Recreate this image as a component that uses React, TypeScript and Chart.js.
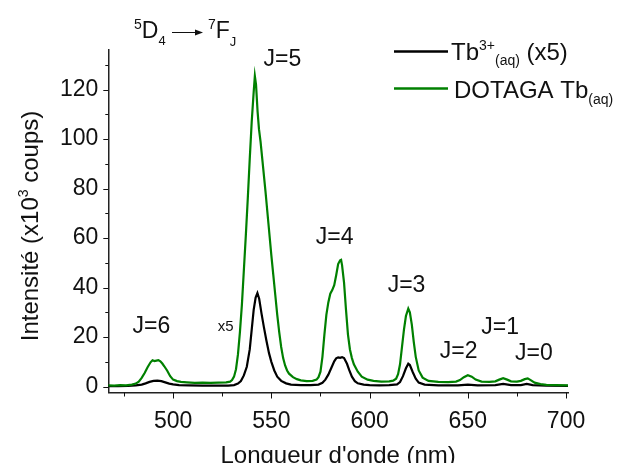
import { useEffect, useRef } from 'react';
import { Chart, registerables } from 'chart.js';

Chart.register(...registerables);

// ---- data ----
const wavelengthDotaga = [467,470,473,476,479,481,482.5,484,485.5,487,
  488.5,489.5,490.5,491.5,492.5,493.5,494.5,495.5,497,498.5,
  500,502,504,507,511,515,519,523,527,529,
  530,531,532,533,534,535,536,537,538,539,
  540,541,541.6,542.2,543,543.7,544.5,545.5,547,548.5,
  550,551,552,553,554,555,556,557,558,559,
  561,563,565,568,571,573,574,575,576,577,
  578,579,580,581,582,583,584,585,585.5,586,
  587,588,589,590,591,592,594,596,599,602,
  606,610,612,613.5,614.5,615.5,616.5,617.5,618.5,619.7,
  620.5,621.5,622.5,623.5,625,627,630,635,640,644,
  646,648,650,652,654,657,661,664,666,668,
  670,672,675,677,679,680.5,682,684,687,690,
  695,701];
const intensityDotaga = [0.5,0.4,0.6,0.5,0.8,1.2,2.0,3.5,5.5,7.8,
  9.8,10.6,10.3,10.5,10.7,10.2,9.3,8.2,6.4,4.2,
  2.8,2.2,1.9,1.7,1.5,1.6,1.5,1.6,1.7,2.0,
  2.6,4.0,7.0,13,22,33,47,61,76,92,
  107,119,125.5,122,111,104,99,91,79,66,
  53,45,37,29,22,16,11.5,8.5,6.5,5.2,
  3.8,3.0,2.5,2.2,2.3,2.8,3.8,6,12,21,
  29,34,37.5,39,41,45,49.5,51,51.2,49,
  42,31,21,15,11.5,9,6,4,2.8,2.3,
  2.0,2.1,2.4,3.2,5,9,16,23,28.5,31.5,
  30,25,18,12,6.5,3.6,2.3,1.9,1.8,2.0,
  2.6,3.8,4.6,4.0,2.8,2.0,1.9,2.1,2.8,3.4,
  2.8,2.1,2.0,2.3,3.0,3.3,2.6,1.6,1.0,0.7,
  0.6,0.5];

const wavelengthTb = [467,472,477,481,484,486,488,490,492,494,
  496,498,500,503,508,515,522,528,531,533,
  534.5,536,537.5,539,540,541,542,542.9,543.8,545,
  546.2,547.5,548.8,550,551.5,553,555,557.5,560,565,
  570,574,576,577.5,579,580.5,582,583,584,585,
  586,587,588.5,589.6,591,592.5,594,597,600,605,
  610,614,615.5,617,618.5,619.7,620.5,622,623.5,625,
  628,635,645,650,655,664,668,672,677,680,
  683,690,701];
const intensityTb = [0.2,0.2,0.3,0.5,0.8,1.3,1.9,2.3,2.4,2.2,
  1.7,1.2,0.9,0.6,0.5,0.4,0.4,0.4,0.6,1.2,
  2.2,4.5,8,15,23,31,36,37.8,35.5,29.5,
  24,18.5,13.5,10,6.5,4,2.3,1.3,0.8,0.6,
  0.6,0.8,1.5,2.8,4.8,7.5,10.2,11.4,11.8,11.6,
  11.9,11.5,9.2,6.7,4,2.2,1.3,0.8,0.6,0.5,
  0.6,0.9,1.8,4.2,7.4,9.2,8.7,5.8,3.2,1.6,
  0.8,0.5,0.5,0.8,0.5,0.6,1.1,0.6,0.6,1.1,
  0.6,0.4,0.3];

const peakLabels = ['J=6', 'J=5', 'J=4', 'J=3', 'J=2', 'J=1', 'J=0'];
const peakLabelX = [488.9, 555.6, 582.2, 618.8, 645.3, 666.5, 683.6];
const peakLabelY = [21.7, 129.5, 57.6, 38.2, 11.6, 21.3, 10.8];
const scaleNote = 'x5';
const scaleNoteX = 526.7;
const scaleNoteY = 22.5;

const X_MIN = 467, X_MAX = 701, X_STEP = 50, X_MINOR = 25;
const Y_MIN = -2.4, Y_MAX = 136, Y_STEP = 20, Y_MINOR = 10;

const FONT = '"Liberation Sans", Arial, Helvetica, sans-serif';
const f = (s: number) => `${s}px ${FONT}`;

function drawRuns(ctx: CanvasRenderingContext2D, x: number, runs: { t: string; size: number; dy: number }[], baseY: number) {
  let cx = x;
  for (const r of runs) {
    ctx.font = f(r.size);
    ctx.fillText(r.t, cx, baseY + r.dy);
    cx += ctx.measureText(r.t).width;
  }
  return cx;
}
function runsWidth(ctx: CanvasRenderingContext2D, runs: { t: string; size: number; dy: number }[]) {
  let w = 0;
  for (const r of runs) { ctx.font = f(r.size); w += ctx.measureText(r.t).width; }
  return w;
}

const overlay = {
  id: 'overlay',
  afterDraw(chart: any) {
    const { ctx, chartArea, scales } = chart;
    const xs = scales.x, ys = scales.y;
    ctx.save();
    // ticks (major + minor), outside
    ctx.strokeStyle = '#111';
    ctx.lineWidth = 1;
    for (let v = 0; v <= Y_MAX; v += Y_MINOR) {
      const py = Math.round(ys.getPixelForValue(v)) + 0.5;
      const len = v % Y_STEP === 0 ? 5 : 3;
      ctx.beginPath(); ctx.moveTo(chartArea.left - len, py); ctx.lineTo(chartArea.left, py); ctx.stroke();
    }
    for (let v = 475; v <= X_MAX; v += X_MINOR) {
      const px = Math.round(xs.getPixelForValue(v)) + 0.5;
      const len = v % X_STEP === 0 ? 6 : 4;
      ctx.beginPath(); ctx.moveTo(px, chartArea.bottom); ctx.lineTo(px, chartArea.bottom + len); ctx.stroke();
    }

    ctx.fillStyle = '#111';
    ctx.textBaseline = 'alphabetic';
    // peak labels
    ctx.font = f(23);
    ctx.textAlign = 'center';
    peakLabels.forEach((t, i) => {
      ctx.fillText(t, xs.getPixelForValue(peakLabelX[i]), ys.getPixelForValue(peakLabelY[i]));
    });
    ctx.font = f(15);
    ctx.fillText(scaleNote, xs.getPixelForValue(scaleNoteX), ys.getPixelForValue(scaleNoteY));

    // x title
    ctx.font = f(24);
    ctx.fillText("Longueur d'onde (nm)", (chartArea.left + chartArea.right) / 2, 462.5);

    // y title (rotated)
    ctx.textAlign = 'left';
    const yRuns = [
      { t: 'Intensité (x10', size: 24, dy: 0 },
      { t: '3', size: 14, dy: -10 },
      { t: ' coups)', size: 24, dy: 0 },
    ];
    const w = runsWidth(ctx, yRuns);
    ctx.save();
    ctx.translate(38, 226);
    ctx.rotate(-Math.PI / 2);
    drawRuns(ctx, -w / 2, yRuns, 0);
    ctx.restore();

    // transition label 5D4 -> 7FJ
    ctx.textAlign = 'left';
    drawRuns(ctx, 134, [
      { t: '5', size: 14, dy: -9 },
      { t: 'D', size: 23, dy: 0 },
      { t: '4', size: 13, dy: 7 },
    ], 37.5);
    ctx.strokeStyle = '#111';
    ctx.lineWidth = 1;
    ctx.beginPath(); ctx.moveTo(172, 32.5); ctx.lineTo(198, 32.5); ctx.stroke();
    ctx.beginPath(); ctx.moveTo(203, 32.5); ctx.lineTo(195, 29.5); ctx.lineTo(195, 35.5); ctx.closePath(); ctx.fill();
    drawRuns(ctx, 208, [
      { t: '7', size: 14, dy: -9 },
      { t: 'F', size: 23, dy: 0 },
      { t: 'J', size: 13, dy: 8 },
    ], 37.5);

    // legend
    ctx.lineWidth = 2.5;
    ctx.strokeStyle = '#000';
    ctx.beginPath(); ctx.moveTo(394, 51.5); ctx.lineTo(448, 51.5); ctx.stroke();
    ctx.strokeStyle = '#008000';
    ctx.beginPath(); ctx.moveTo(394, 88.5); ctx.lineTo(448, 88.5); ctx.stroke();
    ctx.fillStyle = '#111';
    let lx = drawRuns(ctx, 451, [{ t: 'Tb', size: 24, dy: 0 }], 59.5);
    ctx.font = f(14);
    ctx.fillText('3+', lx, 50);
    lx += ctx.measureText('3+').width;
    drawRuns(ctx, lx, [
      { t: '(aq)', size: 14, dy: 5 },
      { t: ' (x5)', size: 24, dy: 0 },
    ], 59.5);
    lx = drawRuns(ctx, 454, [{ t: 'DOTAGA Tb', size: 24, dy: 0 }], 97.5);
    drawRuns(ctx, lx, [{ t: '(aq)', size: 14, dy: 6 }], 97.5);

    ctx.restore();
  },
};

export default function App() {
  const canvasRef = useRef<HTMLCanvasElement | null>(null);

  useEffect(() => {
    const canvas = canvasRef.current;
    if (!canvas) return;
    const chart = new Chart(canvas, {
      type: 'line',
      data: {
        datasets: [
          {
            label: 'Tb3+(aq) (x5)',
            data: wavelengthTb.map((x, i) => ({ x, y: intensityTb[i] })),
            borderColor: '#000000',
            borderWidth: 2.2,
            pointRadius: 0,
            tension: 0,
            order: 2,
          },
          {
            label: 'DOTAGA Tb(aq)',
            data: wavelengthDotaga.map((x, i) => ({ x, y: intensityDotaga[i] })),
            borderColor: '#008000',
            borderWidth: 2.2,
            pointRadius: 0,
            tension: 0,
            order: 1,
          },
        ],
      },
      options: {
        responsive: false,
        animation: false,
        events: [],
        layout: { padding: { left: 0, top: 50, right: 50, bottom: 0 } },
        plugins: { legend: { display: false }, tooltip: { enabled: false }, title: { display: false } },
        scales: {
          x: {
            type: 'linear',
            min: X_MIN,
            max: X_MAX,
            grid: { display: false, drawTicks: false },
            border: { display: true, color: '#222', width: 1.5 },
            ticks: {
              stepSize: X_STEP,
              includeBounds: false,
              autoSkip: false,
              maxRotation: 0,
              padding: 15,
              color: '#111',
              font: { family: FONT, size: 23 },
            },
            afterFit: (axis: any) => { axis.height = 70.5; },
          },
          y: {
            type: 'linear',
            min: Y_MIN,
            max: Y_MAX,
            grid: { display: false, drawTicks: false },
            border: { display: true, color: '#222', width: 1.5 },
            ticks: {
              stepSize: Y_STEP,
              includeBounds: false,
              padding: 10,
              color: '#111',
              font: { family: FONT, size: 23 },
            },
            afterFit: (axis: any) => { axis.width = 108.3; },
          },
        },
      },
      plugins: [overlay],
    });
    return () => chart.destroy();
  }, []);

  return (
    <div style={{ position: 'fixed', left: 0, top: 0, width: 618, height: 463, background: '#fff' }}>
      <canvas ref={canvasRef} width={618} height={463} style={{ display: 'block' }} />
    </div>
  );
}
